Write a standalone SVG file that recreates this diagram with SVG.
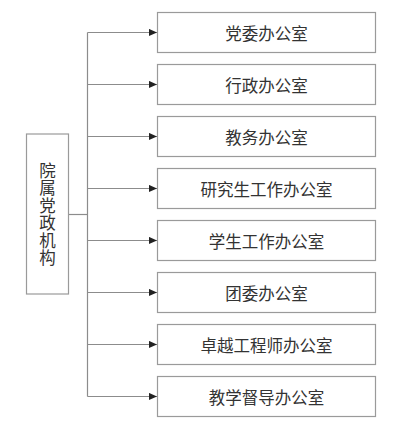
<svg xmlns="http://www.w3.org/2000/svg" width="417" height="436" viewBox="0 0 417 436">
<defs>
<style>
.box{fill:#fff;stroke:#9a9a9a;stroke-width:1.2}
.t{font-family:"Noto Sans CJK SC","Liberation Sans",sans-serif;font-size:16.5px;fill:#333;text-anchor:middle;dominant-baseline:central}
.v{writing-mode:vertical-rl;letter-spacing:1px}
.ln{fill:none;stroke:#8c8c8c;stroke-width:1.2}
</style>
<marker id="ah" viewBox="0 0 10 10" refX="10" refY="5" markerWidth="8" markerHeight="8" markerUnits="userSpaceOnUse" orient="auto">
<path d="M0,0.5 L10,5 L0,9.5 Z" fill="#222"/>
</marker>
</defs>
<rect width="417" height="436" fill="#fff"/>
<g id="connectors">
<path class="ln" d="M68.5,214.5 H87.5"/>
<path class="ln" d="M87.5,32.5 V396.5"/>
<path class="ln" d="M87.5,32.5 H157" marker-end="url(#ah)"/>
<path class="ln" d="M87.5,84.5 H157" marker-end="url(#ah)"/>
<path class="ln" d="M87.5,136.5 H157" marker-end="url(#ah)"/>
<path class="ln" d="M87.5,188.5 H157" marker-end="url(#ah)"/>
<path class="ln" d="M87.5,240.5 H157" marker-end="url(#ah)"/>
<path class="ln" d="M87.5,292.5 H157" marker-end="url(#ah)"/>
<path class="ln" d="M87.5,344.5 H157" marker-end="url(#ah)"/>
<path class="ln" d="M87.5,396.5 H157" marker-end="url(#ah)"/>
</g>
<g id="root">
<rect class="box" x="26.5" y="134" width="42" height="160"/>
<text class="t v" x="47.5" y="214.5">院属党政机构</text>
</g>
<g id="n1"><rect class="box" x="157.5" y="12.5" width="218" height="40"/><text class="t" x="266.5" y="32.5">党委办公室</text></g>
<g id="n2"><rect class="box" x="157.5" y="64.5" width="218" height="40"/><text class="t" x="266.5" y="84.5">行政办公室</text></g>
<g id="n3"><rect class="box" x="157.5" y="116.5" width="218" height="40"/><text class="t" x="266.5" y="136.5">教务办公室</text></g>
<g id="n4"><rect class="box" x="157.5" y="168.5" width="218" height="40"/><text class="t" x="266.5" y="188.5">研究生工作办公室</text></g>
<g id="n5"><rect class="box" x="157.5" y="220.5" width="218" height="40"/><text class="t" x="266.5" y="240.5">学生工作办公室</text></g>
<g id="n6"><rect class="box" x="157.5" y="272.5" width="218" height="40"/><text class="t" x="266.5" y="292.5">团委办公室</text></g>
<g id="n7"><rect class="box" x="157.5" y="324.5" width="218" height="40"/><text class="t" x="266.5" y="344.5">卓越工程师办公室</text></g>
<g id="n8"><rect class="box" x="157.5" y="376.5" width="218" height="40"/><text class="t" x="266.5" y="396.5">教学督导办公室</text></g>
</svg>
